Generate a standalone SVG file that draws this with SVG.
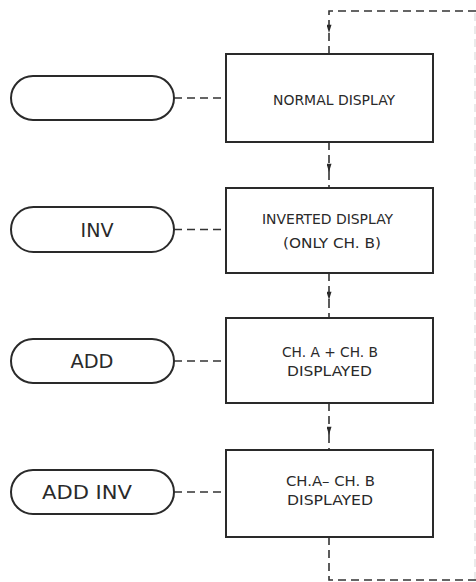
<svg xmlns="http://www.w3.org/2000/svg" width="476" height="582" viewBox="0 0 476 582">
<style>
.box{fill:#fff;stroke:#2a2a2a;stroke-width:2}
.pill{fill:#fff;stroke:#2a2a2a;stroke-width:2}
.dash{fill:none;stroke:#333;stroke-width:1.6;stroke-dasharray:8 5}
.faint{fill:none;stroke:#ddd;stroke-width:1.2;stroke-dasharray:8 5}
.t{font-family:"DejaVu Sans Condensed","Liberation Sans",sans-serif;font-size:14px;fill:#2a2a2a;text-anchor:middle}
.p{font-family:"DejaVu Sans","Liberation Sans",sans-serif;font-size:19px;fill:#2a2a2a;text-anchor:middle}
</style>
<defs>
<marker id="a" viewBox="0 0 10 6" refX="10" refY="3" markerWidth="10" markerHeight="5" markerUnits="userSpaceOnUse" orient="auto">
<path d="M0,0 L10,3 L0,6 Z" fill="#2a2a2a"/>
</marker>
</defs>
<g id="connectors">
<path class="faint" d="M475,580 V11"/>
<path class="dash" d="M476,11 H329 V33" marker-end="url(#a)"/>
<path class="dash" d="M329,33 V54"/>
<path class="dash" d="M329,142 V172" marker-end="url(#a)"/>
<path class="dash" d="M329,172 V188"/>
<path class="dash" d="M329,273 V300" marker-end="url(#a)"/>
<path class="dash" d="M329,300 V318"/>
<path class="dash" d="M329,403 V435" marker-end="url(#a)"/>
<path class="dash" d="M329,435 V450"/>
<path class="dash" d="M329,537 V580 H476"/>
<path class="dash" d="M174,98 H226"/>
<path class="dash" d="M174,229.5 H226"/>
<path class="dash" d="M174,361 H226"/>
<path class="dash" d="M174,492 H226"/>
</g>
<g id="box-normal">
<rect class="box" x="226" y="54" width="207" height="88"/>
<text class="t" x="334" y="105" textLength="122" lengthAdjust="spacingAndGlyphs">NORMAL DISPLAY</text>
</g>
<g id="box-inverted">
<rect class="box" x="226" y="188" width="207" height="85"/>
<text class="t" x="327.5" y="224" textLength="131" lengthAdjust="spacingAndGlyphs">INVERTED DISPLAY</text>
<text class="t" x="332" y="248" textLength="98" lengthAdjust="spacingAndGlyphs">(ONLY CH. B)</text>
</g>
<g id="box-add">
<rect class="box" x="226" y="318" width="207" height="85"/>
<text class="t" x="330" y="357" textLength="96" lengthAdjust="spacingAndGlyphs">CH. A + CH. B</text>
<text class="t" x="329.5" y="376" textLength="85" lengthAdjust="spacingAndGlyphs">DISPLAYED</text>
</g>
<g id="box-addinv">
<rect class="box" x="226" y="450" width="207" height="87"/>
<text class="t" x="330.5" y="486" textLength="89" lengthAdjust="spacingAndGlyphs">CH.A– CH. B</text>
<text class="t" x="330" y="505" textLength="86" lengthAdjust="spacingAndGlyphs">DISPLAYED</text>
</g>
<g id="pill-blank">
<rect class="pill" x="11" y="76" width="163" height="44" rx="22"/>
</g>
<g id="pill-inv">
<rect class="pill" x="11" y="207" width="163" height="45" rx="22.5"/>
<text class="p" x="97" y="237" textLength="33" lengthAdjust="spacingAndGlyphs">INV</text>
</g>
<g id="pill-add">
<rect class="pill" x="11" y="339" width="163" height="44" rx="22"/>
<text class="p" x="92" y="368" textLength="43" lengthAdjust="spacingAndGlyphs">ADD</text>
</g>
<g id="pill-addinv">
<rect class="pill" x="11" y="470" width="163" height="44" rx="22"/>
<text class="p" x="87" y="499" textLength="90" lengthAdjust="spacingAndGlyphs">ADD INV</text>
</g>
</svg>
